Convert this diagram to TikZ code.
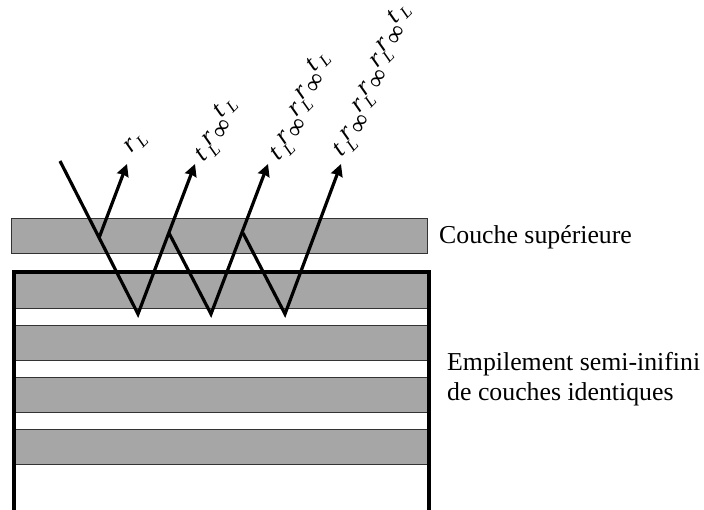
\documentclass[tikz,border=0pt]{standalone}
\usepackage{fontspec}
\setmainfont{Liberation Serif}
\usetikzlibrary{arrows.meta,positioning}
\definecolor{layergray}{HTML}{A6A6A6}
% lettres tournees de -23 degres par rapport a la ligne de base du label
\newcommand{\glyph}[1]{\rotatebox{-23}{#1}}
\newcommand{\subL}[1]{\makebox[18pt][l]{\rlap{\glyph{\textit{#1}}}\kern9pt\raisebox{-9pt}{\glyph{\fontsize{17}{17}\selectfont\textit{L}}}}}
\newcommand{\subinf}[1]{\makebox[30pt][l]{\rlap{\glyph{\textit{#1}}}\kern11pt\raisebox{-11pt}{\rotatebox{-6}{\fontsize{26}{26}\selectfont ∞}}}}
\tikzstyle{layer}=[draw=black!80,fill=layergray,line width=0.9pt,minimum width=416pt,minimum height=35pt,inner sep=0pt,outer sep=0pt]
\tikzstyle{stacklayer}=[layer,minimum width=412pt]
\tikzstyle{caption}=[font=\fontsize{25.8}{30}\selectfont,align=left,anchor=west,inner sep=0pt]
\tikzstyle{coeflabel}=[font=\fontsize{26}{26}\selectfont,rotate=68,anchor=base west,inner sep=0pt]
\tikzstyle{ray}=[line width=3.2pt,line join=miter]
\tikzstyle{rayout}=[ray,-{Stealth[length=12pt,width=12pt,inset=1pt]}]

\begin{document}
\begin{tikzpicture}[x=1pt,y=-1pt,node distance=17pt]
  \useasboundingbox (0,0) rectangle (704,510);
  \node[layer] (top) at (219,236) {};
  \node[stacklayer] (s1) at (221,290.5) {};
  \node[stacklayer] (s2) [below=of s1] {};
  \node[stacklayer] (s3) [below=of s2] {};
  \node[stacklayer] (s4) [below=of s3] {};

  % cadre de l'empilement
  \coordinate (fa) at (14,510);
  \coordinate (fb) at (14,272);
  \coordinate (fc) at (429,272);
  \coordinate (fd) at (429,510);
  \draw[line width=3.6pt] (fa) -- (fb) -- (fc) -- (fd);

  % rayons
  \coordinate (in) at (60,161);
  \coordinate (j1) at (99,238);
  \coordinate (j2) at (169,233);
  \coordinate (j3) at (243,233);
  \coordinate (b1) at (138,314);
  \coordinate (b2) at (211,314);
  \coordinate (b3) at (285,314);
  \coordinate (o1) at (127,164);
  \coordinate (o2) at (195,164);
  \coordinate (o3) at (268,164);
  \coordinate (o4) at (341,164);
  \draw[rayout] (j1) -- (o1);
  \draw[rayout] (in) -- (b1) -- (o2);
  \draw[rayout] (j2) -- (b2) -- (o3);
  \draw[rayout] (j3) -- (b3) -- (o4);

  \node[coeflabel] (l1) at (131,154) {\subL{r}};
  \node[coeflabel] (l2) at (203,163) {\subL{t}\subinf{r}\subL{t}};
  \node[coeflabel] (l3) at (278,162) {\subL{t}\subinf{r}\subL{r}\subinf{r}\subL{t}};
  \node[coeflabel] (l4) at (341,158) {\subL{t}\subinf{r}\subL{r}\subinf{r}\subL{r}\subinf{r}\subL{t}};

  \node[caption] (c1) at (439,237) {Couche supérieure};
  \node[caption] (c2) at (447,379.5) {Empilement semi-inifini\\de couches identiques};
\end{tikzpicture}
\end{document}
